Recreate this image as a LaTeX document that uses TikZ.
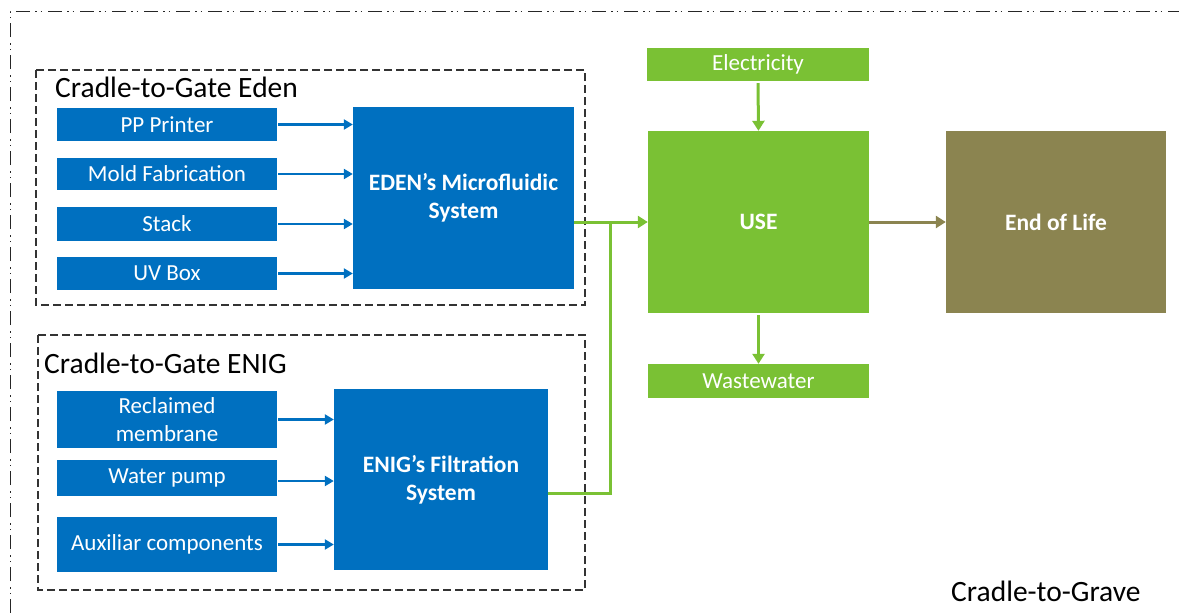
\documentclass[tikz,border=0pt]{standalone}
\usepackage{fontspec}
\setmainfont{Carlito}
\usetikzlibrary{arrows.meta}
\definecolor{lcablue}{RGB}{0,112,192}
\definecolor{lcagreen}{RGB}{122,193,52}
\definecolor{lcabrown}{RGB}{139,132,80}
\tikzset{
  box/.style={rectangle, inner sep=0pt, align=center, text=white,
    font=\fontsize{23}{28}\selectfont},
  bluebox/.style={box, fill=lcablue},
  greenbox/.style={box, fill=lcagreen},
  bigbox/.style={font=\bfseries\fontsize{23.5}{28}\selectfont},
  stagebox/.style={draw=black!80, line width=1.1pt, dash pattern=on 8pt off 4pt},
  title/.style={anchor=base west, inner sep=0pt, font=\fontsize{29.5}{32}\selectfont},
  blueline/.style={draw=lcablue, line width=2.2pt, -{Triangle[length=9pt,width=10pt]}},
  greenline/.style={draw=lcagreen, line width=3pt, -{Triangle[length=10pt,width=12pt]}},
  brownline/.style={draw=lcabrown, line width=3pt, -{Triangle[length=10pt,width=12pt]}},
}
\begin{document}
\begin{tikzpicture}[x=1pt, y=-1pt]
\useasboundingbox (0,0) rectangle (1179,613);

% outer cradle-to-grave frame (only top and left edges are visible)
\draw[black!85, line width=1pt,
  dash pattern=on 14pt off 5pt on 1.5pt off 4pt on 1.5pt off 6pt]
  (10,613) -- (10,11) -- (1179,11);
\node[title] (grave) at (951,601) {Cradle-to-Grave};

% cradle-to-gate frames
\draw[stagebox] (36,70) rectangle (585,305);
\node[title] (edenT) at (55,97) {Cradle-to-Gate Eden};
\draw[stagebox] (38,335) rectangle (585,590);
\node[title] (enigT) at (44,373) {Cradle-to-Gate ENIG};

% EDEN inputs
\node[bluebox, minimum width=220pt, minimum height=33pt] (pp)    at (167,124.5) {PP Printer};
\node[bluebox, minimum width=220pt, minimum height=32pt] (mold)  at (167,174)   {Mold Fabrication};
\node[bluebox, minimum width=220pt, minimum height=34pt] (stack) at (167,224)   {Stack};
\node[bluebox, minimum width=220pt, minimum height=33pt] (uv)    at (167,273.5) {UV Box};
\node[bluebox, bigbox, minimum width=221pt, minimum height=182pt] (eden) at (463.5,198)
  {EDEN’s Microfluidic\\System};

% ENIG inputs
\node[bluebox, minimum width=220pt, minimum height=57pt] (recl)  at (167,419.5) {Reclaimed\\membrane};
\node[bluebox, minimum width=220pt, minimum height=36pt] (pump)  at (167,478)   {Water pump};
\node[bluebox, minimum width=220pt, minimum height=55pt] (aux)   at (167,544.5) {Auxiliar components};
\node[bluebox, bigbox, minimum width=214pt, minimum height=181pt] (enig) at (441,479.5)
  {ENIG’s Filtration\\System};

% use phase
\node[greenbox, minimum width=222pt, minimum height=33pt] (elec)  at (758,64.5) {Electricity};
\node[greenbox, bigbox, minimum width=221pt, minimum height=182pt] (use) at (758.5,222) {USE};
\node[greenbox, minimum width=221pt, minimum height=34pt] (waste) at (758.5,381) {Wastewater};

% end of life
\node[box, bigbox, fill=lcabrown, minimum width=220pt, minimum height=182pt] (eol) at (1056,222)
  {End of Life};

% input arrows
\foreach \n in {pp,mold,stack,uv}
  \draw[blueline] ([xshift=1pt]\n.east) -- (\n.east -| eden.west);
\draw[blueline] ([xshift=1pt]recl.east) -- (recl.east -| enig.west);
\draw[blueline] ([xshift=1pt,yshift=-3pt]pump.east) -- ([yshift=-3pt]pump.east -| enig.west);
\draw[blueline] ([xshift=1pt]aux.east) -- (aux.east -| enig.west);

% systems feeding the use phase
\coordinate (join) at (610,222);
\draw[greenline] (eden.east |- use.west) -- (use.west);
\draw[greenline, -] ([yshift=-13.5pt]enig.east) -| (join);

\draw[greenline, shorten <=2pt] (elec.south) -- (use.north);
\draw[greenline, shorten <=2pt] (use.south) -- (waste.north);
\draw[brownline] (use.east) -- (eol.west);
\end{tikzpicture}
\end{document}
